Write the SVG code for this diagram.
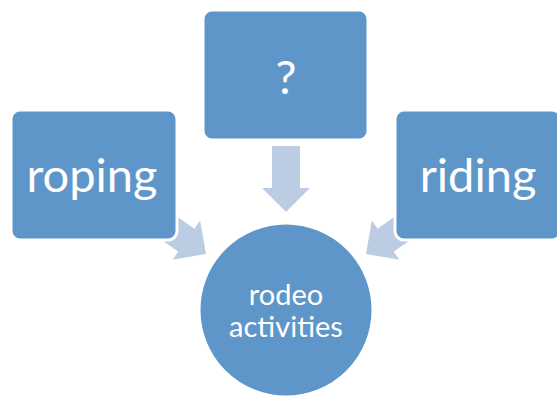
<svg xmlns="http://www.w3.org/2000/svg" width="557" height="397" viewBox="0 0 557 397">
<defs>
<style>
.box{fill:#5f96c9;stroke:#ffffff;stroke-width:3}
.arr{fill:#bccde3}
.t{font-family:Lato,"Open Sans","DejaVu Sans",sans-serif;fill:#ffffff;text-anchor:middle}
</style>
<polygon id="arrowShape" points="-14,-66 14,-66 14,-24 24,-24 0,0 -24,-24 -14,-24"/>
</defs>
<rect width="557" height="397" fill="#ffffff"/>
<g id="connectors" class="arr">
<use href="#arrowShape" transform="translate(286,212)"/>
<use href="#arrowShape" transform="translate(206,254) rotate(-54.9)"/>
<use href="#arrowShape" transform="translate(366,254) rotate(54.9)"/>
</g>
<g id="node-question">
<rect class="box" x="203" y="10" width="165" height="130" rx="9"/>
<text class="t" x="286" y="94" font-size="47">?</text>
</g>
<g id="node-roping">
<rect class="box" x="11" y="110" width="166" height="130" rx="9"/>
<text class="t" x="92" y="192" font-size="47">roping</text>
</g>
<g id="node-riding">
<rect class="box" x="395" y="110" width="166" height="130" rx="9"/>
<text class="t" x="478" y="192" font-size="47">riding</text>
</g>
<g id="node-rodeo">
<circle class="box" cx="286" cy="310" r="87"/>
<text class="t" x="286" y="305" font-size="29">rodeo</text>
<text class="t" x="286" y="337" font-size="29">activities</text>
</g>
</svg>
